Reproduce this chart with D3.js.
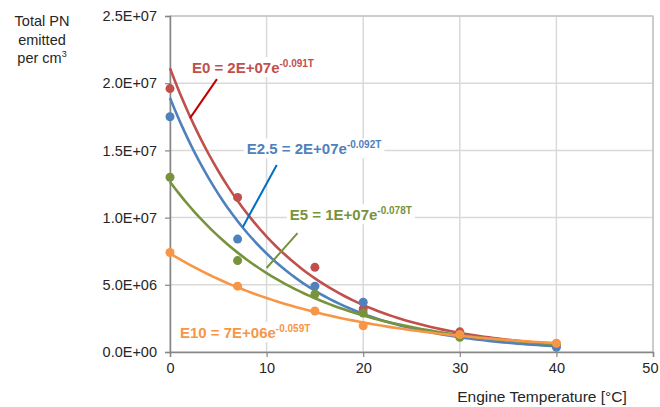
<!DOCTYPE html>
<html><head><meta charset="utf-8">
<script src="https://cdn.jsdelivr.net/npm/d3@7"></script>
<style>body{margin:0;background:#fff}svg{display:block;font-family:"Liberation Sans",Arial,sans-serif}</style>
</head><body><svg id="c" width="660" height="407"></svg>
<script>
const temperatures = [0, 7, 15, 20, 30, 40];
const seriesNames = ["E0", "E2.5", "E5", "E10"];
const e0 = [19.6e6, 11.5e6, 6.3e6, 3.2e6, 1.5e6, 0.55e6];
const e25 = [17.5e6, 8.4e6, 4.9e6, 3.7e6, 1.2e6, 0.35e6];
const e5 = [13.0e6, 6.8e6, 4.3e6, 2.9e6, 1.1e6, 0.62e6];
const e10 = [7.4e6, 4.9e6, 3.05e6, 1.95e6, 1.3e6, 0.65e6];
const seriesValues = [e0, e25, e5, e10];
const fitLabels = [["E0 = 2E+07e", "-0.091T"], ["E2.5 = 2E+07e", "-0.092T"], ["E5 = 1E+07e", "-0.078T"], ["E10 = 7E+06e", "-0.059T"]];
const xTicks = [0, 10, 20, 30, 40, 50];
const yTicks = [0, 5e6, 10e6, 15e6, 20e6, 25e6];
const yTitle = ["Total PN", "emitted", "per cm"];
const xTitle = "Engine Temperature [°C]";
// annotation anchor positions in data units: [T, PN]
const labelPos = [[2.27, 20.75e6], [7.95, 14.7e6], [12.4, 9.8e6], [1.03, 1.05e6]];
const leaders = [[[4.86, 20.3e6], [2.07, 17.4e6]], [[11.05, 13.91e6], [7.54, 9.3e6]], [[13.2, 8.85e6], [10.0, 6.25e6]], null];

const colors = ["#c0504d", "#4f81bd", "#77933c", "#f79646"];
const leaderColors = ["#c00000", "#0070c0", "#77933c", null];

const svg = d3.select("#c");
const m = {l: 170, r: 653, t: 16, b: 352};
const x = d3.scaleLinear().domain([0, 50]).range([m.l, m.r]);
const y = d3.scaleLinear().domain([0, 2.5e7]).range([m.b, m.t]);

// gridlines
const g = svg.append("g");
g.selectAll(".gx").data(xTicks.slice(1)).join("line")
  .attr("x1", d => x(d)).attr("x2", d => x(d)).attr("y1", m.t).attr("y2", m.b)
  .attr("stroke", "#d9d9d9").attr("stroke-width", 1.5);
g.selectAll(".gy").data(yTicks.slice(1)).join("line")
  .attr("x1", m.l).attr("x2", m.r).attr("y1", d => y(d)).attr("y2", d => y(d))
  .attr("stroke", "#d9d9d9").attr("stroke-width", 1.5);
// border
svg.append("rect").attr("x", m.l).attr("y", m.t).attr("width", m.r - m.l).attr("height", m.b - m.t)
  .attr("fill", "none").attr("stroke", "#bfbfbf").attr("stroke-width", 1.2);

const fmt = v => {
  if (v === 0) return "0.0E+00";
  const e = Math.floor(Math.log10(v));
  const mm = v / Math.pow(10, e);
  return mm.toFixed(1) + "E+" + String(e).padStart(2, "0");
};
const yAxis = d3.axisLeft(y).tickValues(yTicks).tickFormat(fmt).tickSize(5).tickPadding(8);
const xAxis = d3.axisBottom(x).tickValues(xTicks).tickFormat(d3.format("d")).tickSize(5).tickPadding(6);
const ya = svg.append("g").attr("transform", `translate(${m.l},0)`).call(yAxis);
const xa = svg.append("g").attr("transform", `translate(0,${m.b})`).call(xAxis);
[ya, xa].forEach(a => {
  a.select(".domain").attr("stroke", "#868686").attr("stroke-width", 1.5);
  a.selectAll(".tick line").attr("stroke", "#868686").attr("stroke-width", 1.2);
  a.selectAll("text").attr("fill", "#262626").attr("font-size", 14.5).attr("font-family", "Liberation Sans, Arial, sans-serif");
});
xa.selectAll(".tick text").filter(d => d === 50).attr("text-anchor", "end").attr("dx", 5);

// titles
const yt = svg.append("text").attr("text-anchor", "middle").attr("fill", "#262626").attr("font-size", 14.5);
yTitle.forEach((t, i) => {
  yt.append("tspan").attr("x", 42).attr("y", 26 + i * 18.5).text(t);
});
yt.append("tspan").attr("font-size", 9).attr("dy", -6).text("3");
svg.append("text").attr("x", 542).attr("y", 402).attr("text-anchor", "middle")
  .attr("fill", "#262626").attr("font-size", 15.5).text(xTitle);

// fits + markers
const xs = d3.range(0, 40.01, 0.5);
seriesValues.forEach((vals, i) => {
  const pts = temperatures.map((t, k) => [t, Math.log(vals[k])]);
  const mx = d3.mean(pts, p => p[0]);
  const my = d3.mean(pts, p => p[1]);
  const b = d3.sum(pts, p => (p[0] - mx) * (p[1] - my)) / d3.sum(pts, p => (p[0] - mx) ** 2);
  const a = Math.exp(my - b * mx);
  svg.append("g").selectAll("circle").data(temperatures.map((t, k) => [t, vals[k]])).join("circle")
    .attr("cx", d => x(d[0])).attr("cy", d => y(d[1])).attr("r", 4.5).attr("fill", colors[i]);
  svg.append("path").datum(xs).attr("fill", "none").attr("stroke", colors[i]).attr("stroke-width", 2.6)
    .attr("d", d3.line().x(d => x(d)).y(d => y(a * Math.exp(b * d))));
});

// annotations
fitLabels.forEach((lab, i) => {
  const gg = svg.append("g");
  const rect = gg.append("rect").attr("fill", "#fff");
  const t = gg.append("text").attr("x", x(labelPos[i][0])).attr("y", y(labelPos[i][1]))
    .attr("fill", colors[i]).attr("font-weight", "bold").attr("font-size", 15);
  t.append("tspan").text(lab[0]);
  t.append("tspan").attr("font-size", 10).attr("dy", -6).text(lab[1]);
  const bb = t.node().getBBox();
  rect.attr("x", bb.x - 3).attr("y", bb.y - 1).attr("width", bb.width + 6).attr("height", bb.height + 2);
  if (leaders[i]) {
    svg.append("line").attr("x1", x(leaders[i][0][0])).attr("y1", y(leaders[i][0][1]))
      .attr("x2", x(leaders[i][1][0])).attr("y2", y(leaders[i][1][1]))
      .attr("stroke", leaderColors[i]).attr("stroke-width", 2);
  }
});
</script></body></html>
